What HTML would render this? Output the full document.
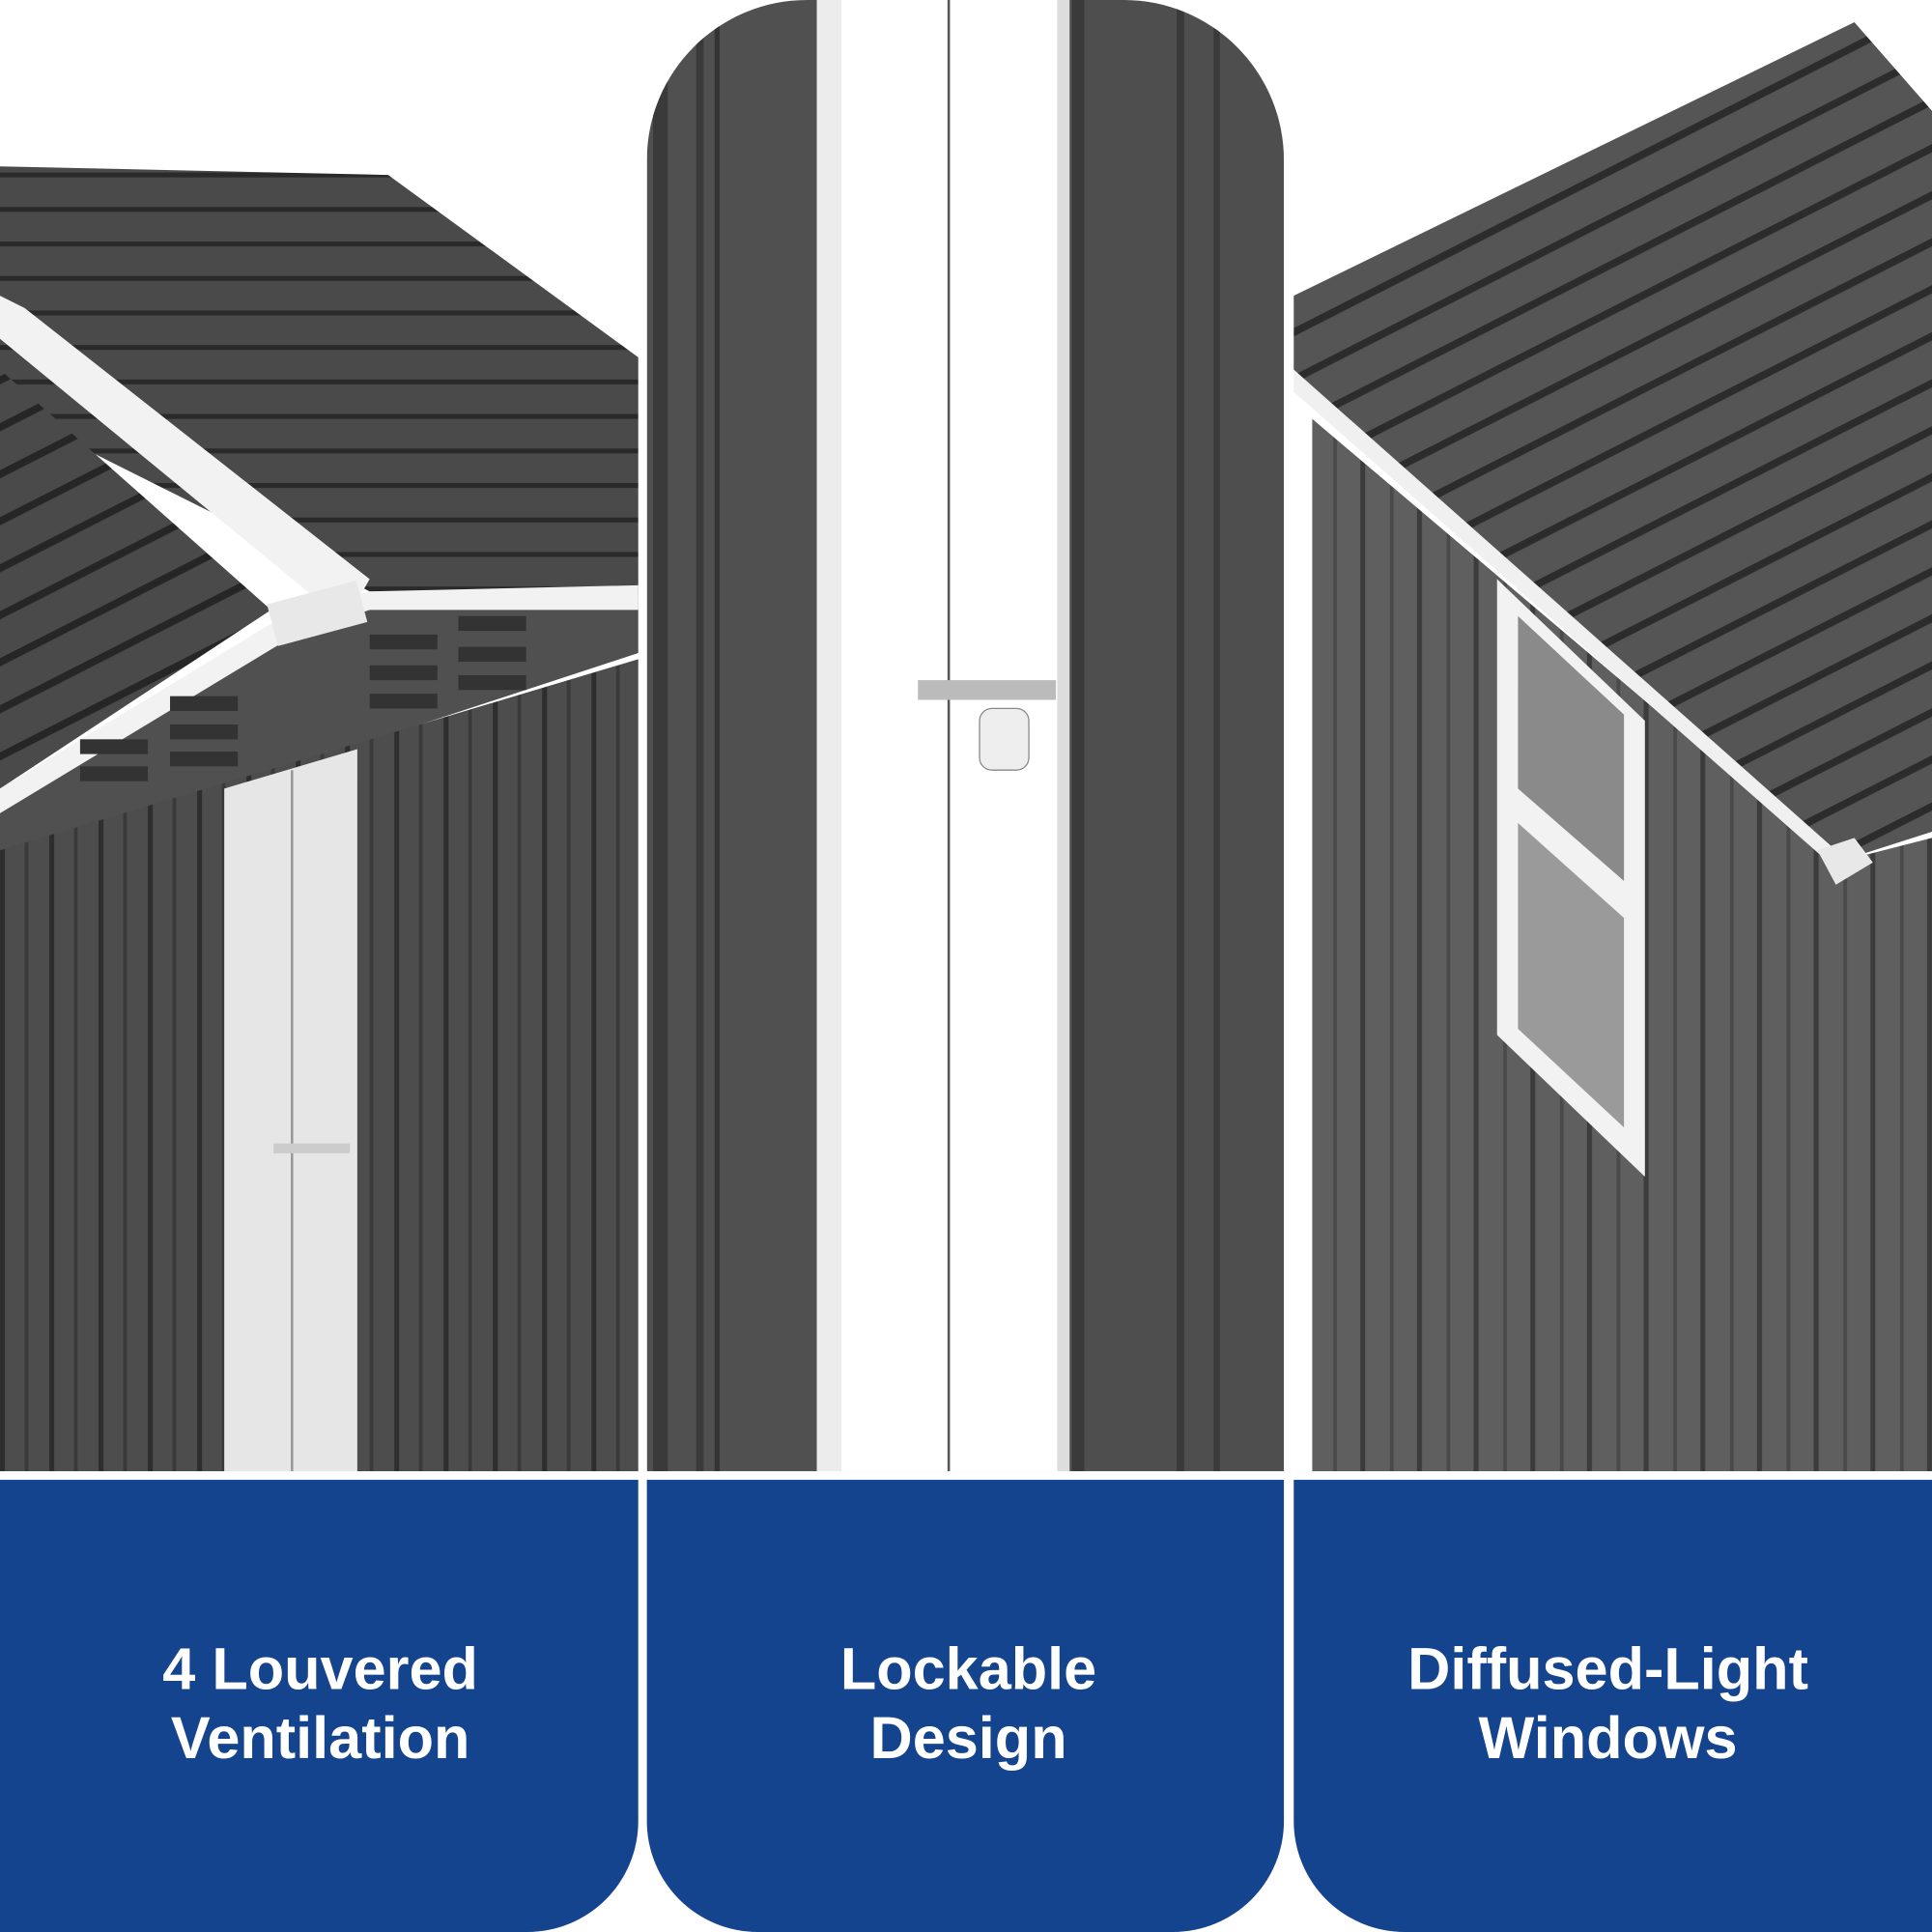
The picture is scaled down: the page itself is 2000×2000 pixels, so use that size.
<!DOCTYPE html>
<html><head><meta charset="utf-8"><style>
html,body{margin:0;padding:0;background:#fff;}
svg{display:block}
</style></head><body>
<svg width="2000" height="2000" viewBox="0 0 1568 1568" xmlns="http://www.w3.org/2000/svg">
<defs>
<pattern id="vs" width="40" height="10" patternUnits="userSpaceOnUse">
<rect width="40" height="10" fill="#4d4d4d"/><rect x="0" width="4" height="10" fill="#2e2e2e"/><rect x="20" width="3" height="10" fill="#3a3a3a"/>
</pattern>
<pattern id="vs2" width="46" height="10" patternUnits="userSpaceOnUse">
<rect width="46" height="10" fill="#5f5f5f"/><rect x="0" width="4" height="10" fill="#3c3c3c"/><rect x="24" width="3" height="10" fill="#4a4a4a"/>
</pattern>
<pattern id="hs" width="10" height="28" patternUnits="userSpaceOnUse">
<rect width="10" height="28" fill="#4a4a4a"/><rect y="0" width="10" height="4" fill="#2a2a2a"/>
</pattern>
<pattern id="rs" width="10" height="34" patternUnits="userSpaceOnUse" patternTransform="rotate(-27)">
<rect width="10" height="34" fill="#555"/><rect y="0" width="10" height="6" fill="#2c2c2c"/>
</pattern>
<pattern id="ls" width="10" height="34" patternUnits="userSpaceOnUse" patternTransform="rotate(-27)">
<rect width="10" height="34" fill="#4a4a4a"/><rect y="0" width="10" height="6" fill="#262626"/>
</pattern>
<clipPath id="cm"><path d="M525,130 A130,130 0 0 1 655,0 L912,0 A130,130 0 0 1 1042,130 L1042,1194 L525,1194 Z"/></clipPath>
</defs>

<!-- LEFT PANEL -->
<rect x="0" y="0" width="518" height="1194" fill="#fff"/>
<polygon points="0,135 315,142 518,290 518,480 300,480 0,330" fill="url(#hs)"/>
<polygon points="0,300 220,495 0,640" fill="url(#ls)"/>
<polygon points="0,650 300,480 518,480 518,530 0,700" fill="#505050"/>
<polygon points="0,690 518,535 518,1194 0,1194" fill="url(#vs)"/>
<polygon points="0,240 20,250 300,470 280,505 0,275" fill="#f2f2f2"/>
<polygon points="0,640 230,500 300,480 518,475 518,495 300,495 240,515 0,660" fill="#f2f2f2"/>
<rect x="220" y="480" width="75" height="35" fill="#e8e8e8" transform="rotate(-15 258 498)"/>
<g fill="#333"><rect x="300" y="515" width="55" height="12"/><rect x="300" y="540" width="55" height="12"/><rect x="300" y="563" width="55" height="12"/>
<rect x="372" y="500" width="55" height="12"/><rect x="372" y="525" width="55" height="12"/><rect x="372" y="548" width="55" height="12"/>
<rect x="138" y="565" width="55" height="12"/><rect x="138" y="588" width="55" height="12"/><rect x="138" y="610" width="55" height="12"/>
<rect x="65" y="600" width="55" height="12"/><rect x="65" y="622" width="55" height="12"/></g>
<polygon points="182,640 290,608 290,1194 182,1194" fill="#e6e6e6"/>
<line x1="237" y1="625" x2="237" y2="1194" stroke="#999" stroke-width="2"/>
<rect x="222" y="928" width="62" height="8" fill="#ccc"/>

<!-- MIDDLE PANEL -->
<g clip-path="url(#cm)">
<rect x="525" y="0" width="517" height="1194" fill="#fff"/>
<rect x="525" y="0" width="138" height="1194" fill="#505050"/>
<rect x="530" y="0" width="12" height="1194" fill="#3a3a3a"/>
<rect x="565" y="0" width="6" height="1194" fill="#3a3a3a"/>
<rect x="580" y="0" width="4" height="1194" fill="#333"/>
<rect x="663" y="0" width="20" height="1194" fill="#ececec"/>
<rect x="868" y="0" width="174" height="1194" fill="#4e4e4e"/>
<rect x="870" y="0" width="10" height="1194" fill="#3a3a3a"/>
<rect x="955" y="0" width="6" height="1194" fill="#3a3a3a"/>
<rect x="985" y="0" width="5" height="1194" fill="#3a3a3a"/>
<rect x="858" y="0" width="10" height="1194" fill="#ddd"/>
<line x1="770" y1="0" x2="770" y2="1194" stroke="#555" stroke-width="2"/>
<rect x="745" y="552" width="112" height="16" fill="#bbb"/>
<rect x="795" y="575" width="40" height="50" rx="10" fill="#eee" stroke="#888"/>
</g>

<!-- RIGHT PANEL -->
<rect x="1050" y="0" width="518" height="1194" fill="#fff"/>
<polygon points="1065,340 1490,700 1568,680 1568,1194 1065,1194" fill="url(#vs2)"/>
<polygon points="1050,240 1505,18 1568,90 1568,675 1490,700 1050,300" fill="url(#rs)"/>
<polygon points="1050,300 1490,690 1490,705 1050,318" fill="#f0f0f0"/>
<polygon points="1475,690 1505,680 1520,700 1490,718" fill="#e8e8e8"/>
<polygon points="1215,470 1335,585 1335,955 1215,840" fill="#f2f2f2"/>
<polygon points="1232,500 1318,580 1318,715 1232,640" fill="#8a8a8a"/>
<polygon points="1232,668 1318,745 1318,915 1232,835" fill="#9a9a9a"/>

<!-- BLUE BOXES -->
<path d="M0,1201 L518,1201 L518,1478 A90,90 0 0 1 428,1568 L0,1568 Z" fill="#15448e"/>
<path d="M525,1201 L1042,1201 L1042,1478 A90,90 0 0 1 952,1568 L615,1568 A90,90 0 0 1 525,1478 Z" fill="#15448e"/>
<path d="M1050,1201 L1568,1201 L1568,1568 L1140,1568 A90,90 0 0 1 1050,1478 Z" fill="#15448e"/>

<g font-family="Liberation Sans, DejaVu Sans, sans-serif" font-weight="bold" font-size="48" fill="#fff" text-anchor="middle">
<text x="260" y="1371">4 Louvered</text><text x="260" y="1427">Ventilation</text>
<text x="786" y="1371">Lockable</text><text x="786" y="1427">Design</text>
<text x="1305" y="1371">Diffused-Light</text><text x="1305" y="1427">Windows</text>
</g>
</svg>
</body></html>
